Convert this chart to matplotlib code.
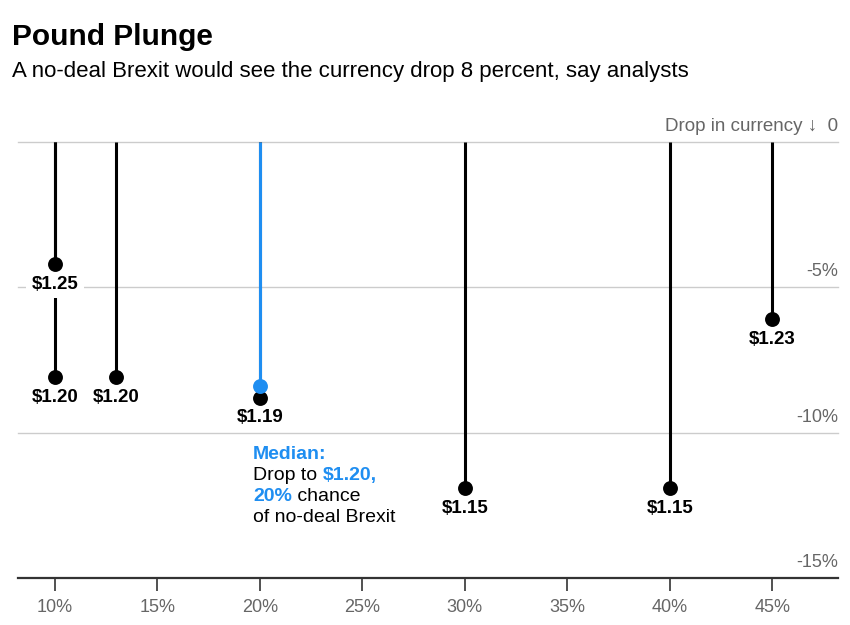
import matplotlib
matplotlib.use("Agg")
import matplotlib.pyplot as plt

plt.rcParams['font.family'] = ['Liberation Sans', 'DejaVu Sans']

# ---- data ----
probability = [10, 10, 13, 20, 30, 40, 45]          # chance of no-deal Brexit (%)
drop = [-4.2, -8.1, -8.1, -8.8, -11.9, -11.9, -6.1]  # drop in currency (%)
price = ["$1.25", "$1.20", "$1.20", "$1.19", "$1.15", "$1.15", "$1.23"]
median_prob = 20
median_drop = -8.4
x_ticks = [10, 15, 20, 25, 30, 35, 40, 45]
y_ticks = [0, -5, -10, -15]
y_tick_labels = ["Drop in currency \u2193  0", "-5%", "-10%", "-15%"]

BLUE = "#1f8ef1"
GRAY = "#666666"

fig = plt.figure(figsize=(8.5, 6.25), dpi=100)
ax = fig.add_axes([18/850, 47/625, 820/850, 436/625])
ax.set_xlim(8.2, 48.2)
ax.set_ylim(-15, 0)

for s in ["top", "left", "right"]:
    ax.spines[s].set_visible(False)
ax.spines["bottom"].set_color("#333333")
ax.spines["bottom"].set_linewidth(1.6)

ax.set_xticks(x_ticks)
ax.set_xticklabels([f"{t}%" for t in x_ticks])
ax.tick_params(axis="x", direction="out", length=9, width=1.2, color="#333333",
               labelsize=13, labelcolor=GRAY, pad=6)
ax.set_yticks([])

# gridlines
for v in y_ticks[:-1]:
    ax.axhline(v, color="#cccccc", lw=1.0, zorder=0, clip_on=False)

# y labels on the right, above the gridlines
for v, lab in zip(y_ticks, y_tick_labels):
    ax.annotate(lab, xy=(1.0, v), xycoords=("axes fraction", "data"),
                xytext=(0, 5), textcoords="offset points",
                ha="right", va="bottom", fontsize=13.5 if v == 0 else 13, color=GRAY)

# stems
for x, y in zip(probability, drop):
    ax.plot([x, x], [0, y], color="black", lw=2.2, zorder=2, solid_capstyle="butt")
ax.plot([median_prob, median_prob], [0, median_drop], color=BLUE, lw=2.2, zorder=3,
        solid_capstyle="butt")

# dots
ax.scatter(probability, drop, s=115, color="black", zorder=7, linewidths=0)
ax.scatter([median_prob], [median_drop], s=115, color=BLUE, zorder=8, linewidths=0)

# price labels
for x, y, p in zip(probability, drop, price):
    ax.annotate(p, xy=(x, y), xytext=(0, -14.5), textcoords="offset points",
                ha="center", va="center", fontsize=13.5, fontweight="bold", color="black",
                zorder=5,
                bbox=dict(boxstyle="square,pad=0.3", fc="white", ec="none"))

# median annotation (multi-colored text)
fig.canvas.draw()
renderer = fig.canvas.get_renderer()
anchor_x = 19.66
anchor_y = -10.69
line_step = 21 * 72 / 100  # points
lines = [
    [("Median:", BLUE, "bold")],
    [("Drop to ", "black", "normal"), ("$1.20,", BLUE, "bold")],
    [("20%", BLUE, "bold"), (" chance", "black", "normal")],
    [("of no-deal Brexit", "black", "normal")],
]
for i, segs in enumerate(lines):
    xoff = 0.0
    for txt, col, wt in segs:
        t = ax.annotate(txt, xy=(anchor_x, anchor_y), xytext=(xoff, -i * line_step),
                        textcoords="offset points", ha="left", va="center_baseline",
                        fontsize=14, color=col, fontweight=wt, zorder=6)
        w = t.get_window_extent(renderer).width
        xoff += w * 72 / fig.dpi

# titles
fig.text(12/850, 1 - 37/625, "Pound Plunge", fontsize=21.5, fontweight="bold",
         ha="left", va="center", color="black")
fig.text(12/850, 1 - 72/625,
         "A no-deal Brexit would see the currency drop 8 percent, say analysts",
         fontsize=16, ha="left", va="center", color="black")

fig.savefig("out.png", dpi=100, facecolor="white")
